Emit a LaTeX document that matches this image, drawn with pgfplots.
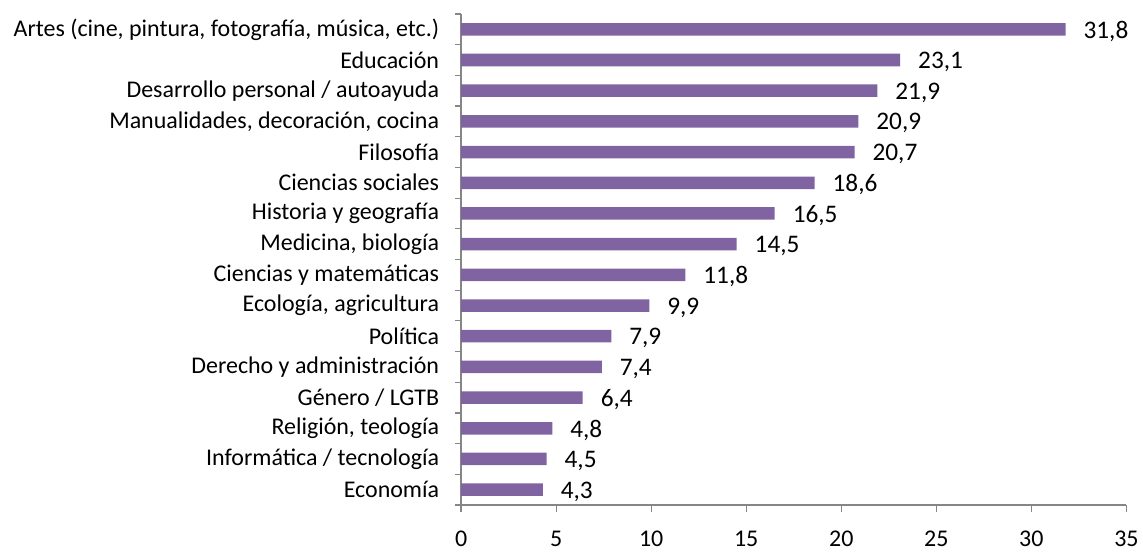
\documentclass[border=0pt]{standalone}
\usepackage{fontspec}
\setmainfont{Carlito}
\usepackage{pgfplots}
\pgfplotsset{compat=1.18}
\definecolor{barpurple}{HTML}{8064A2}
\definecolor{axgray}{HTML}{868686}
\begin{document}
\begin{tikzpicture}
\begin{axis}[
  scale only axis, width=500pt, height=369pt,
  xbar, bar width=9.4pt,
  xmin=0, xmax=35, ymin=-0.5, ymax=15.5,
  axis x line*=bottom, axis y line*=left,
  axis line style={axgray, line width=0.9pt},
  tick align=outside,
  major tick length=5pt, minor tick length=4.5pt,
  xtick={0,5,...,35},
  xtick style={axgray, line width=0.9pt},
  ytick={0,...,15},
  minor ytick={-0.5,0.5,...,15.5},
  major y tick style={draw=none},
  minor y tick style={axgray, line width=0.9pt},
  yticklabels={Economía, Informática / tecnología, {Religión, teología}, Género / LGTB, Derecho y administración, Política, {Ecología, agricultura}, Ciencias y matemáticas, {Medicina, biología}, Historia y geografía, Ciencias sociales, Filosofía, {Manualidades, decoración, cocina}, Desarrollo personal / autoayuda, Educación, {Artes (cine, pintura, fotografía, música, etc.)}},
  every tick label/.append style={font=\fontsize{18pt}{22pt}\selectfont, text=black},
  yticklabel style={xshift=-8pt},
  xticklabel style={yshift=-11pt},
  /pgf/number format/assume math mode=true,
  nodes near coords,
  point meta=x,
  nodes near coords style={anchor=west, xshift=10pt, yshift=-1.5pt, font=\fontsize{19pt}{22pt}\selectfont, text=black, /pgf/number format/.cd, use comma, fixed, fixed zerofill, precision=1, assume math mode=true},
]
\addplot[fill=barpurple, draw=none] coordinates {
(4.3,0) (4.5,1) (4.8,2) (6.4,3) (7.4,4) (7.9,5) (9.9,6) (11.8,7) (14.5,8) (16.5,9) (18.6,10) (20.7,11) (20.9,12) (21.9,13) (23.1,14) (31.8,15)};
\end{axis}
\path[use as bounding box] (current axis.south west) ++(-346.5pt,-34pt) rectangle ([shift={(10.5pt,10.5pt)}]current axis.north east);
\end{tikzpicture}
\end{document}
